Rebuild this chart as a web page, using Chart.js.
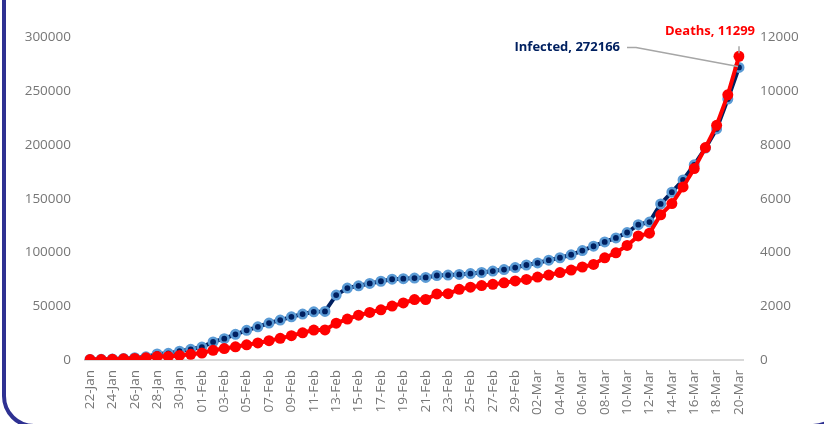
<!DOCTYPE html>
<html>
<head>
<meta charset="utf-8">
<script src="https://cdn.jsdelivr.net/npm/chart.js@4.4.1/dist/chart.umd.min.js"></script>
<style>
  body { margin: 0; background: #fff; overflow: hidden; }
  .wrap { position: relative; width: 824px; height: 424px; overflow: hidden; }
  .frame { position: absolute; left: 2px; top: -60px; width: 843px; height: 488px; box-sizing: border-box;
           border: 4px solid #2E3192; border-radius: 32px; }
  canvas { position: absolute; left: 0; top: 0; }
</style>
</head>
<body>
<div class="wrap">
  <div class="frame"></div>
  <canvas id="covidChart" width="824" height="424"></canvas>
</div>
<script>
const dates = [
  '22-Jan','23-Jan','24-Jan','25-Jan','26-Jan','27-Jan','28-Jan','29-Jan','30-Jan','31-Jan',
  '01-Feb','02-Feb','03-Feb','04-Feb','05-Feb','06-Feb','07-Feb','08-Feb','09-Feb','10-Feb',
  '11-Feb','12-Feb','13-Feb','14-Feb','15-Feb','16-Feb','17-Feb','18-Feb','19-Feb','20-Feb',
  '21-Feb','22-Feb','23-Feb','24-Feb','25-Feb','26-Feb','27-Feb','28-Feb','29-Feb',
  '01-Mar','02-Mar','03-Mar','04-Mar','05-Mar','06-Mar','07-Mar','08-Mar','09-Mar','10-Mar',
  '11-Mar','12-Mar','13-Mar','14-Mar','15-Mar','16-Mar','17-Mar','18-Mar','19-Mar','20-Mar'
];

const infected = [
  555, 654, 941, 1434, 2118, 2927, 5578, 6166, 8234, 9927,
  12038, 16787, 19881, 23892, 27636, 30818, 34392, 37121, 40151, 42763,
  44803, 45222, 60370, 66887, 69032, 71226, 73260, 75138, 75641, 76199,
  76843, 78599, 78985, 79570, 80415, 81397, 82756, 84124, 86013,
  88371, 90309, 92844, 95124, 97886, 101800, 105836, 109835, 113582, 118582,
  125865, 128343, 145193, 156097, 167449, 181531, 197146, 214910, 242708, 272166
];

const deaths = [
  17, 18, 26, 42, 56, 82, 131, 133, 171, 213,
  259, 362, 426, 492, 564, 634, 719, 806, 906, 1013,
  1113, 1118, 1371, 1523, 1666, 1770, 1868, 2007, 2122, 2247,
  2251, 2458, 2469, 2629, 2708, 2770, 2814, 2872, 2941,
  2996, 3085, 3160, 3254, 3348, 3460, 3558, 3802, 3988, 4262,
  4615, 4720, 5404, 5819, 6440, 7126, 7905, 8733, 9867, 11299
];

const leftTicks = [0, 50000, 100000, 150000, 200000, 250000, 300000];
const rightTicks = [0, 2000, 4000, 6000, 8000, 10000, 12000];

const tickFont = { family: 'Open Sans', size: 13.5 };
const tickColor = '#767676';

// Baseline, leader lines and end labels
const extras = {
  id: 'extras',
  beforeDatasetsDraw(chart) {
    const { ctx, chartArea, scales } = chart;
    const y0 = scales.y.getPixelForValue(0);
    ctx.save();
    ctx.strokeStyle = '#D9D9D9';
    ctx.lineWidth = 2;
    ctx.beginPath();
    ctx.moveTo(chartArea.left - 6, y0);
    ctx.lineTo(chartArea.right + 5, y0);
    ctx.stroke();
    ctx.restore();
  },
  afterDatasetsDraw(chart) {
    const { ctx } = chart;
    const last = dates.length - 1;
    const pInf = chart.getDatasetMeta(1).data[last];
    const pDth = chart.getDatasetMeta(0).data[last];
    ctx.save();
    ctx.strokeStyle = '#A6A6A6';
    ctx.lineWidth = 1.5;
    ctx.beginPath();
    ctx.moveTo(pInf.x - 112, pInf.y - 20);
    ctx.lineTo(pInf.x - 103, pInf.y - 20);
    ctx.lineTo(pInf.x - 1, pInf.y - 1);
    ctx.moveTo(pDth.x, pDth.y - 10);
    ctx.lineTo(pDth.x, pDth.y - 3);
    ctx.stroke();

    ctx.font = 'bold 13px "Open Sans"';
    ctx.textBaseline = 'middle';
    ctx.fillStyle = '#002060';
    ctx.textAlign = 'right';
    ctx.fillText('Infected, ' + infected[last], pInf.x - 119, pInf.y - 20);
    ctx.fillStyle = '#FF0000';
    ctx.textAlign = 'center';
    ctx.fillText('Deaths, ' + deaths[last], pDth.x - 29, pDth.y - 25);
    ctx.restore();
  }
};

new Chart(document.getElementById('covidChart'), {
  type: 'line',
  data: {
    labels: dates,
    datasets: [
      {
        label: 'Deaths',
        data: deaths,
        yAxisID: 'y1',
        borderColor: '#FF0000',
        backgroundColor: '#FF0000',
        borderWidth: 4,
        pointRadius: 5.5,
        pointBorderWidth: 0,
        pointBackgroundColor: '#FF0000',
        tension: 0,
        order: 0
      },
      {
        label: 'Infected',
        data: infected,
        yAxisID: 'y',
        borderColor: '#002060',
        backgroundColor: '#002060',
        borderWidth: 4,
        pointRadius: 4.2,
        pointBorderWidth: 2.6,
        pointBorderColor: '#5B9BD5',
        pointBackgroundColor: '#002060',
        tension: 0,
        order: 1
      }
    ]
  },
  options: {
    responsive: false,
    animation: false,
    layout: { padding: { top: 37.5, bottom: 0, left: 0, right: 0 } },
    plugins: {
      legend: { display: false },
      tooltip: { enabled: false }
    },
    scales: {
      x: {
        grid: { display: false, drawTicks: false },
        border: { display: false },
        ticks: {
          autoSkip: false,
          maxRotation: 90,
          minRotation: 90,
          padding: 10,
          color: tickColor,
          font: tickFont,
          callback: (v, i) => (i % 2 === 0 ? dates[i] : '')
        },
        afterFit: s => { s.height = 64; }
      },
      y: {
        position: 'left',
        min: leftTicks[0],
        max: leftTicks[leftTicks.length - 1],
        grid: { display: false, drawTicks: false },
        border: { display: false },
        ticks: { stepSize: leftTicks[1] - leftTicks[0], padding: 19, color: tickColor, font: tickFont,
                 callback: v => String(v) },
        afterFit: s => { s.width = 90; }
      },
      y1: {
        position: 'right',
        min: rightTicks[0],
        max: rightTicks[rightTicks.length - 1],
        grid: { display: false, drawTicks: false },
        border: { display: false },
        ticks: { stepSize: rightTicks[1] - rightTicks[0], padding: 21, color: tickColor, font: tickFont,
                 callback: v => String(v) },
        afterFit: s => { s.width = 85; }
      }
    }
  },
  plugins: [extras]
});
</script>
</body>
</html>
